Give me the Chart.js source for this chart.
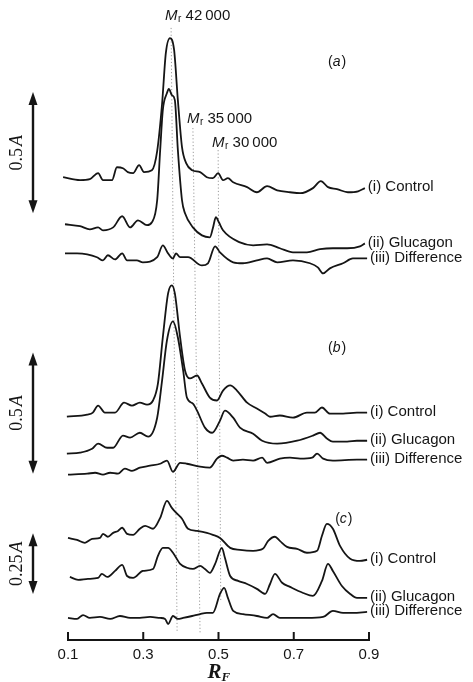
<!DOCTYPE html>
<html>
<head>
<meta charset="utf-8">
<script src="https://cdn.jsdelivr.net/npm/chart.js@4.4.0/dist/chart.umd.min.js"></script>
<style>
  html, body { margin: 0; padding: 0; background: #fff; }
</style>
</head>
<body>
<canvas id="chart" width="473" height="682"></canvas>
<script>
// densitometer scans: [R_F, absorbance]
const panelLetters = ['a', 'b', 'c'];
const traceNames = ['(i) Control', '(ii) Glucagon', '(iii) Difference'];
const mrLabels = ['42\u2009000', '35\u2009000', '30\u2009000'];
const rfTicks = [0.1, 0.3, 0.5, 0.7, 0.9];
const scaleBarsA = [0.5, 0.5, 0.25];

const aControl = [
    [0.087, 1.909], [0.132, 1.897], [0.158, 1.901], [0.180, 1.926], [0.193, 1.897],
    [0.217, 1.897], [0.230, 1.950], [0.246, 1.946], [0.259, 1.930], [0.273, 1.926],
    [0.289, 1.959], [0.302, 1.930], [0.323, 1.938], [0.337, 2.017], [0.350, 2.211],
    [0.360, 2.421], [0.371, 2.483], [0.382, 2.434], [0.392, 2.227], [0.403, 2.033],
    [0.414, 1.967], [0.430, 1.938], [0.451, 1.930], [0.469, 1.909], [0.485, 1.905],
    [0.499, 1.926], [0.512, 1.897], [0.525, 1.905], [0.539, 1.888], [0.576, 1.868],
    [0.602, 1.847], [0.629, 1.872], [0.656, 1.855], [0.690, 1.847], [0.717, 1.843],
    [0.751, 1.864], [0.772, 1.893], [0.791, 1.868], [0.815, 1.860], [0.844, 1.847],
    [0.871, 1.851], [0.889, 1.864]
];
const aGlucagon = [
    [0.092, 1.715], [0.132, 1.707], [0.158, 1.694], [0.180, 1.702], [0.193, 1.690],
    [0.220, 1.702], [0.244, 1.748], [0.265, 1.702], [0.286, 1.731], [0.310, 1.711],
    [0.323, 1.723], [0.337, 1.814], [0.345, 2.021], [0.352, 2.186], [0.363, 2.256],
    [0.368, 2.273], [0.376, 2.248], [0.384, 2.227], [0.392, 2.021], [0.403, 1.814],
    [0.411, 1.760], [0.432, 1.702], [0.456, 1.669], [0.477, 1.661], [0.485, 1.698],
    [0.493, 1.744], [0.501, 1.723], [0.512, 1.690], [0.557, 1.640], [0.592, 1.628],
    [0.629, 1.632], [0.663, 1.616], [0.698, 1.599], [0.735, 1.599], [0.770, 1.612],
    [0.804, 1.616], [0.842, 1.616], [0.876, 1.624], [0.889, 1.636]
];
const aDifference = [
    [0.092, 1.595], [0.124, 1.595], [0.151, 1.591], [0.177, 1.579], [0.193, 1.566],
    [0.206, 1.587], [0.225, 1.570], [0.244, 1.595], [0.257, 1.566], [0.283, 1.566],
    [0.299, 1.558], [0.337, 1.579], [0.352, 1.628], [0.366, 1.595], [0.379, 1.574],
    [0.387, 1.595], [0.398, 1.579], [0.419, 1.579], [0.456, 1.545], [0.472, 1.554],
    [0.491, 1.624], [0.504, 1.599], [0.539, 1.558], [0.565, 1.554], [0.602, 1.566],
    [0.629, 1.574], [0.656, 1.558], [0.698, 1.566], [0.743, 1.554], [0.764, 1.537],
    [0.778, 1.512], [0.796, 1.533], [0.831, 1.554], [0.857, 1.574], [0.895, 1.574]
];
const bControl = [
    [0.097, 0.921], [0.151, 0.930], [0.166, 0.938], [0.180, 0.967], [0.198, 0.938],
    [0.225, 0.938], [0.249, 0.979], [0.270, 0.967], [0.291, 0.979], [0.310, 0.971],
    [0.326, 0.988], [0.339, 1.058], [0.352, 1.248], [0.366, 1.430], [0.376, 1.463],
    [0.384, 1.430], [0.398, 1.248], [0.411, 1.112], [0.424, 1.079], [0.443, 1.091],
    [0.456, 1.058], [0.477, 1.000], [0.496, 0.988], [0.512, 1.029], [0.531, 1.050],
    [0.549, 1.029], [0.576, 0.979], [0.602, 0.955], [0.624, 0.934], [0.637, 0.921],
    [0.663, 0.926], [0.698, 0.917], [0.735, 0.938], [0.756, 0.938], [0.775, 0.959],
    [0.796, 0.934], [0.831, 0.934], [0.868, 0.938], [0.895, 0.938]
];
const bGlucagon = [
    [0.097, 0.769], [0.132, 0.773], [0.164, 0.789], [0.180, 0.810], [0.204, 0.793],
    [0.220, 0.793], [0.246, 0.843], [0.265, 0.835], [0.291, 0.855], [0.313, 0.839],
    [0.337, 0.917], [0.350, 1.070], [0.363, 1.236], [0.379, 1.314], [0.392, 1.248],
    [0.406, 1.112], [0.416, 1.000], [0.432, 0.975], [0.443, 0.946], [0.464, 0.876],
    [0.483, 0.855], [0.504, 0.905], [0.517, 0.946], [0.539, 0.917], [0.557, 0.876],
    [0.592, 0.851], [0.616, 0.822], [0.656, 0.810], [0.709, 0.822], [0.751, 0.843],
    [0.770, 0.855], [0.788, 0.831], [0.804, 0.818], [0.842, 0.818], [0.868, 0.822],
    [0.895, 0.822]
];
const bDifference = [
    [0.100, 0.682], [0.151, 0.686], [0.172, 0.690], [0.193, 0.682], [0.212, 0.690],
    [0.233, 0.686], [0.251, 0.707], [0.270, 0.698], [0.291, 0.711], [0.318, 0.719],
    [0.345, 0.727], [0.363, 0.740], [0.379, 0.694], [0.398, 0.731], [0.416, 0.727],
    [0.451, 0.715], [0.477, 0.711], [0.496, 0.748], [0.509, 0.760], [0.523, 0.752],
    [0.539, 0.740], [0.565, 0.744], [0.592, 0.740], [0.616, 0.752], [0.629, 0.731],
    [0.663, 0.748], [0.690, 0.752], [0.717, 0.748], [0.749, 0.752], [0.762, 0.769],
    [0.778, 0.748], [0.804, 0.740], [0.868, 0.744], [0.895, 0.744]
];
const cControl = [
    [0.100, 0.421], [0.124, 0.413], [0.145, 0.401], [0.164, 0.417], [0.185, 0.421],
    [0.193, 0.438], [0.206, 0.426], [0.220, 0.442], [0.233, 0.450], [0.244, 0.463],
    [0.257, 0.438], [0.273, 0.434], [0.291, 0.459], [0.305, 0.471], [0.326, 0.459],
    [0.345, 0.504], [0.363, 0.574], [0.376, 0.545], [0.390, 0.521], [0.403, 0.500],
    [0.419, 0.459], [0.443, 0.450], [0.469, 0.442], [0.485, 0.434], [0.504, 0.421],
    [0.531, 0.380], [0.557, 0.372], [0.592, 0.368], [0.618, 0.376], [0.632, 0.409],
    [0.650, 0.426], [0.663, 0.409], [0.682, 0.384], [0.709, 0.376], [0.735, 0.360],
    [0.762, 0.368], [0.775, 0.430], [0.788, 0.479], [0.804, 0.459], [0.823, 0.388],
    [0.850, 0.335], [0.876, 0.326], [0.895, 0.331]
];
const cGlucagon = [
    [0.105, 0.260], [0.127, 0.248], [0.153, 0.252], [0.180, 0.256], [0.190, 0.273],
    [0.204, 0.260], [0.225, 0.285], [0.244, 0.310], [0.257, 0.264], [0.273, 0.256],
    [0.299, 0.285], [0.326, 0.293], [0.339, 0.347], [0.352, 0.380], [0.366, 0.380],
    [0.379, 0.360], [0.398, 0.314], [0.416, 0.298], [0.432, 0.293], [0.451, 0.306],
    [0.464, 0.293], [0.477, 0.277], [0.491, 0.314], [0.509, 0.380], [0.517, 0.339],
    [0.531, 0.264], [0.552, 0.244], [0.576, 0.231], [0.602, 0.211], [0.624, 0.190],
    [0.637, 0.231], [0.650, 0.273], [0.669, 0.236], [0.690, 0.219], [0.725, 0.194],
    [0.751, 0.182], [0.775, 0.244], [0.791, 0.314], [0.804, 0.285], [0.828, 0.223],
    [0.850, 0.190], [0.868, 0.174], [0.895, 0.174]
];
const cDifference = [
    [0.100, 0.091], [0.124, 0.087], [0.140, 0.103], [0.158, 0.091], [0.185, 0.095],
    [0.212, 0.087], [0.238, 0.099], [0.265, 0.091], [0.291, 0.091], [0.318, 0.095],
    [0.345, 0.091], [0.358, 0.087], [0.366, 0.066], [0.379, 0.099], [0.392, 0.087],
    [0.406, 0.091], [0.430, 0.099], [0.451, 0.107], [0.469, 0.112], [0.485, 0.112],
    [0.504, 0.190], [0.515, 0.215], [0.525, 0.174], [0.539, 0.120], [0.565, 0.107],
    [0.602, 0.099], [0.629, 0.091], [0.645, 0.107], [0.663, 0.091], [0.698, 0.091],
    [0.735, 0.091], [0.778, 0.095], [0.804, 0.120], [0.831, 0.112], [0.857, 0.112],
    [0.895, 0.116]
];

// dotted guide lines through the M_r bands (top point, bottom point)
const mrMarkers = [
    [[0.374, 2.525], [0.390, 0.029]],
    [[0.432, 2.112], [0.451, 0.029]],
    [[0.499, 2.021], [0.506, 0.161]]
];

const traces = [aControl, aGlucagon, aDifference, bControl, bGlucagon, bDifference,
    cControl, cGlucagon, cDifference];

const sans = '"Liberation Sans", Arial, Helvetica, sans-serif';
const serif = '"Liberation Serif", "Times New Roman", serif';

const datasets = [];
traces.forEach(function (t, i) {
    datasets.push({
        label: traceNames[i % 3],
        data: t.map(p => ({ x: p[0], y: p[1] })),
        borderColor: '#151515',
        borderWidth: 1.8,
        pointRadius: 0,
        cubicInterpolationMode: 'monotone',
        fill: false,
        clip: false,
        order: 0
    });
});
mrMarkers.forEach(function (m) {
    datasets.push({
        label: 'marker',
        data: m.map(p => ({ x: p[0], y: p[1] })),
        borderColor: '#9a9a9a',
        borderWidth: 1,
        borderDash: [1.2, 2.2],
        pointRadius: 0,
        fill: false,
        clip: false,
        order: 5
    });
});

function drawArrow(ctx, x, top, bottom) {
    ctx.lineWidth = 2.4;
    ctx.beginPath();
    ctx.moveTo(x, top + 8);
    ctx.lineTo(x, bottom - 8);
    ctx.stroke();
    ctx.beginPath();
    ctx.moveTo(x, top);
    ctx.lineTo(x - 4.5, top + 13);
    ctx.lineTo(x + 4.5, top + 13);
    ctx.closePath();
    ctx.fill();
    ctx.beginPath();
    ctx.moveTo(x, bottom);
    ctx.lineTo(x - 4.5, bottom - 13);
    ctx.lineTo(x + 4.5, bottom - 13);
    ctx.closePath();
    ctx.fill();
}

const annotate = {
    id: 'annotate',
    afterDraw(chart) {
        const ctx = chart.ctx;
        const xs = chart.scales.x, ys = chart.scales.y;
        const area = chart.chartArea;
        ctx.save();
        ctx.fillStyle = '#151515';
        ctx.strokeStyle = '#151515';

        // trace names at the end of each scan
        ctx.font = '15px ' + sans;
        ctx.textBaseline = 'middle';
        ctx.textAlign = 'left';
        traces.forEach(function (t, i) {
            const last = t[t.length - 1];
            ctx.fillText(traceNames[i % 3], xs.getPixelForValue(last[0]) + 3,
                ys.getPixelForValue(last[1]) - 1);
        });

        // panel letters
        const letterAt = [[0.823, 2.384], [0.823, 1.202], [0.842, 0.5]];
        panelLetters.forEach(function (l, i) {
            let px = xs.getPixelForValue(letterAt[i][0]) - 12;
            const py = ys.getPixelForValue(letterAt[i][1]);
            ctx.font = '14px ' + sans;
            ctx.fillText('(', px, py);
            px += ctx.measureText('(').width;
            ctx.font = 'italic 14px ' + sans;
            ctx.fillText(l, px, py);
            px += ctx.measureText(l).width + 1;
            ctx.font = '14px ' + sans;
            ctx.fillText(')', px, py);
        });

        // M_r labels above the guide lines
        ctx.textBaseline = 'alphabetic';
        const lift = [8, 5, 3];
        mrMarkers.forEach(function (m, i) {
            let px = xs.getPixelForValue(m[0][0]) - 6;
            const py = ys.getPixelForValue(m[0][1]) - lift[i];
            ctx.font = 'italic 15px ' + sans;
            ctx.fillText('M', px, py);
            px += ctx.measureText('M').width + 0.5;
            ctx.font = '10px ' + sans;
            ctx.fillText('r', px, py + 2);
            px += ctx.measureText('r').width;
            ctx.font = '15px ' + sans;
            ctx.fillText(' ' + mrLabels[i], px, py);
        });

        // absorbance scale bars
        const barBase = [1.760, 0.686, 0.190];
        scaleBarsA.forEach(function (v, i) {
            const x = area.left - 35;
            const top = ys.getPixelForValue(barBase[i] + v);
            const bottom = ys.getPixelForValue(barBase[i]);
            drawArrow(ctx, x, top, bottom);
            ctx.save();
            ctx.translate(area.left - 51, (top + bottom) / 2);
            ctx.rotate(-Math.PI / 2);
            const num = String(v);
            ctx.font = '18px ' + serif;
            const w1 = ctx.measureText(num).width;
            ctx.font = 'italic 18px ' + serif;
            const w2 = ctx.measureText('A').width;
            ctx.textBaseline = 'middle';
            ctx.font = '18px ' + serif;
            ctx.fillText(num, -(w1 + w2 + 2) / 2, 0);
            ctx.font = 'italic 18px ' + serif;
            ctx.fillText('A', -(w1 + w2 + 2) / 2 + w1 + 2, 0);
            ctx.restore();
        });

        // upward tick marks on the R_F axis
        ctx.lineWidth = 2;
        rfTicks.forEach(function (t) {
            const px = xs.getPixelForValue(t);
            ctx.beginPath();
            ctx.moveTo(px, area.bottom);
            ctx.lineTo(px, area.bottom - 8);
            ctx.stroke();
        });

        // axis title R_F
        const cx = xs.getPixelForValue(0.5);
        ctx.font = 'bold italic 21px ' + serif;
        ctx.textBaseline = 'alphabetic';
        ctx.fillText('R', cx - 11, 678);
        ctx.font = 'bold italic 13px ' + serif;
        ctx.fillText('F', cx + 3, 681);
        ctx.restore();
    }
};

new Chart(document.getElementById('chart'), {
    type: 'line',
    data: { datasets: datasets },
    options: {
        responsive: false,
        animation: false,
        layout: { padding: { left: 68, right: 104, top: 0, bottom: 12 } },
        plugins: { legend: { display: false }, tooltip: { enabled: false } },
        scales: {
            x: {
                type: 'linear',
                min: 0.1,
                max: 0.9,
                border: { display: true, color: '#151515', width: 2 },
                grid: { display: true, drawOnChartArea: false, drawTicks: false },
                ticks: {
                    stepSize: 0.1,
                    autoSkip: false,
                    maxRotation: 0,
                    padding: 6,
                    color: '#151515',
                    font: { size: 15, family: sans },
                    callback: function (v) {
                        return rfTicks.some(t => Math.abs(t - v) < 1e-6) ? v.toFixed(1) : '';
                    }
                }
            },
            y: {
                type: 'linear',
                display: false,
                min: 0,
                max: 2.64
            }
        }
    },
    plugins: [annotate]
});
</script>
</body>
</html>
